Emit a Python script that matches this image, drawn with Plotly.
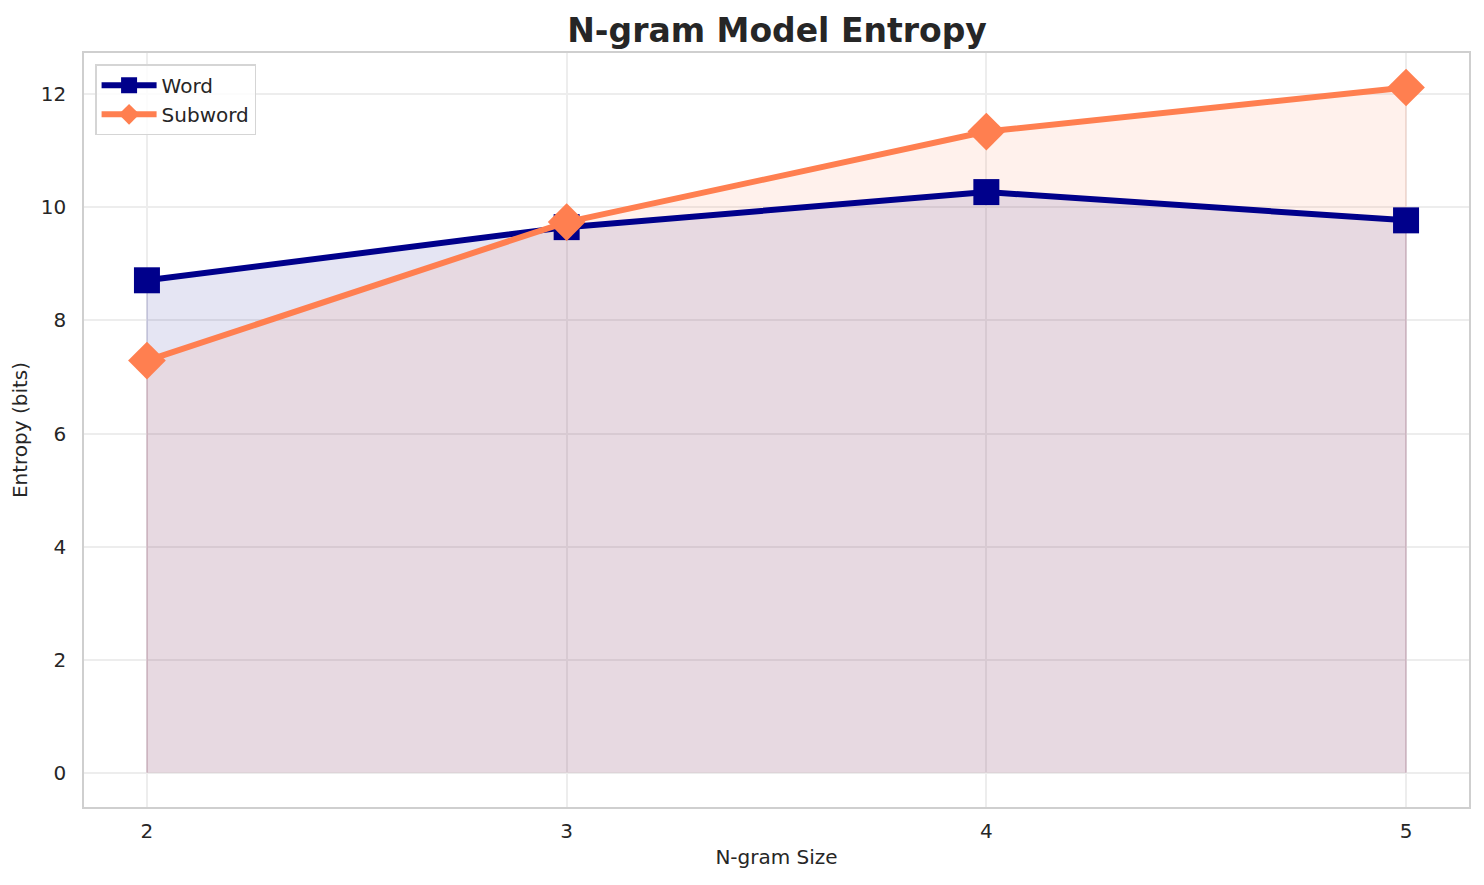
import plotly.graph_objects as go

ngram_sizes = [2, 3, 4, 5]
word_entropy = [8.71, 9.65, 10.27, 9.77]
subword_entropy = [7.29, 9.74, 11.34, 12.12]

x_ticks = [2, 3, 4, 5]
y_ticks = [0, 2, 4, 6, 8, 10, 12]

FONT = "DejaVu Sans"
TXT = "#262626"


def area(xs, ys):
    # closed polygon down to the zero baseline (like fill_between)
    return [xs[0]] + list(xs) + [xs[-1]], [0] + list(ys) + [0]


fig = go.Figure()
# fills first (below lines)
wx, wy = area(ngram_sizes, word_entropy)
fig.add_trace(go.Scatter(
    x=wx, y=wy, mode="lines", fill="toself", fillcolor="rgba(0,0,139,0.10)",
    line=dict(color="rgba(0,0,139,0.12)", width=1.5), showlegend=False, hoverinfo="skip",
))
sx, sy = area(ngram_sizes, subword_entropy)
fig.add_trace(go.Scatter(
    x=sx, y=sy, mode="lines", fill="toself", fillcolor="rgba(255,127,80,0.11)",
    line=dict(color="rgba(255,127,80,0.13)", width=1.5), showlegend=False, hoverinfo="skip",
))
fig.add_trace(go.Scatter(
    x=ngram_sizes, y=word_entropy, name="Word", mode="lines+markers",
    line=dict(color="#00008B", width=6),
    marker=dict(symbol="square", size=26, color="#00008B"),
))
fig.add_trace(go.Scatter(
    x=ngram_sizes, y=subword_entropy, name="Subword", mode="lines+markers",
    line=dict(color="#FF7F50", width=6),
    marker=dict(symbol="diamond", size=29, color="#FF7F50"),
))

W, H = 1476, 877
fig.update_layout(
    width=W, height=H,
    margin=dict(l=76, r=15, t=45, b=78),
    paper_bgcolor="white", plot_bgcolor="white",
    font=dict(family=FONT, color=TXT, size=20),
    title=dict(text="<b>N-gram Model Entropy</b>", x=769 / W, xanchor="center",
               y=1 - 22 / H, yanchor="middle", font=dict(size=33, color=TXT, family=FONT)),
    showlegend=True,
    legend=dict(x=0.008, y=0.985, xanchor="left", yanchor="top",
                bgcolor="rgba(255,255,255,0.8)", bordercolor="#D5D5D5", borderwidth=1.5,
                font=dict(size=20, color=TXT), itemsizing="trace", itemwidth=55,
                tracegroupgap=0),
)
fig.update_xaxes(
    range=[1.85, 5.15], tickvals=x_ticks, ticktext=[str(v) for v in x_ticks],
    showgrid=True, gridcolor="#EDEDED", gridwidth=1.5,
    showline=True, linecolor="#CFCFCF", linewidth=1.5, mirror=True,
    ticks="outside", ticklen=5, tickcolor="rgba(0,0,0,0)",
    zeroline=False, automargin=False,
    title=dict(text="N-gram Size", font=dict(size=20, color=TXT), standoff=8),
    tickfont=dict(size=20, color=TXT),
)
fig.update_yaxes(
    range=[-0.606, 12.73], tickvals=y_ticks, ticktext=[str(v) for v in y_ticks],
    showgrid=True, gridcolor="#EDEDED", gridwidth=1.5,
    showline=True, linecolor="#CFCFCF", linewidth=1.5, mirror=True,
    ticks="outside", ticklen=12, tickcolor="rgba(0,0,0,0)",
    zeroline=False, automargin=False,
    title=dict(text="Entropy (bits)", font=dict(size=20, color=TXT), standoff=10),
    tickfont=dict(size=20, color=TXT),
)

fig.write_html("out.html")
